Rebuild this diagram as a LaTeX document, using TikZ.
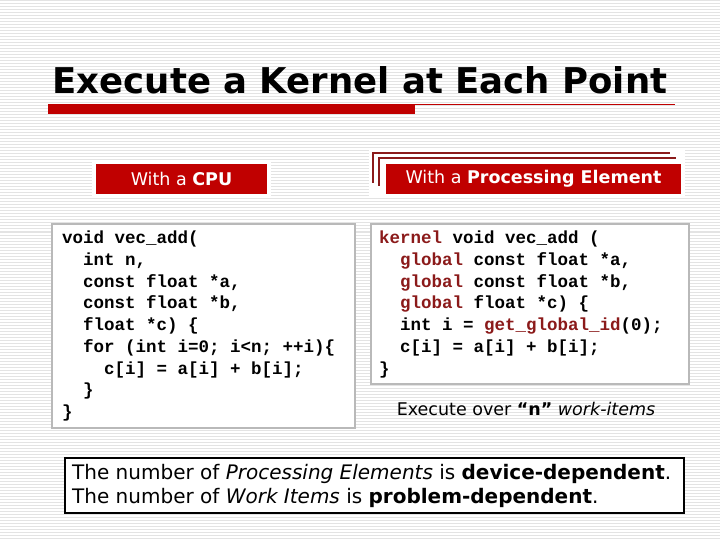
\documentclass[tikz,border=0pt]{standalone}
\usepackage{fontspec}
\setmainfont{DejaVu Sans}
\newfontfamily\codef{Liberation Mono}
\begin{document}
\begin{tikzpicture}[x=1pt,y=-1pt,
  lbl/.style={fill=myred,text=white,inner sep=0pt,font=\fontsize{17.5}{20}\selectfont},
  codebox/.style={draw=gray!55,line width=2pt,fill=white},
  code/.style={anchor=north west,align=left,inner sep=0pt,font=\codef\bfseries\fontsize{17.5}{21.7}\selectfont}]
\definecolor{myred}{HTML}{C00000}
\definecolor{kw}{HTML}{8B1A1A}
\useasboundingbox (0,0) rectangle (720,540);
\fill[white] (0,0) rectangle (720,540);
\foreach \y in {1,4,...,540} \draw[gray!22,line width=1pt] (0,\y) -- (720,\y);
% title
\node (title) at (360,80) {\fontsize{35.5}{40}\selectfont\bfseries Execute a Kernel at Each Point};
\draw[myred,line width=1pt] (48,105) -- (675,105);
\fill[myred] (48,105) rectangle (415,114);
% CPU label
\fill[white] (92,160) rectangle (271,198);
\node[lbl,minimum width=171,minimum height=30] (cpu) at (181.5,179) {With a \textbf{CPU}};
% PE label
\fill[white] (369,150) rectangle (685,198);
\draw[kw,line width=1.2pt] (373,183) -- (373,153) -- (670,153);
\draw[kw,line width=1.2pt] (379,186) -- (379,158) -- (676,158);
\fill[white] (382,160) rectangle (685,198);
\node[lbl,minimum width=295,minimum height=30] (pe) at (533.5,179) {With a \textbf{Processing Element}};
% code boxes
\draw[codebox] (52,224) rectangle (355,428);
\node[code] (c1) at (62,231) {void vec\_add(\\
\ \ int n,\\
\ \ const float *a,\\
\ \ const float *b,\\
\ \ float *c) \{\\
\ \ for (int i=0; i<n; ++i)\{\\
\ \ \ \ c[i] = a[i] + b[i];\\
\ \ \}\\
\}};
\draw[codebox] (371,224) rectangle (689,384);
\node[code] (c2) at (379,231) {\textcolor{kw}{kernel} void vec\_add (\\
\ \ \textcolor{kw}{global} const float *a,\\
\ \ \textcolor{kw}{global} const float *b,\\
\ \ \textcolor{kw}{global} float *c) \{\\
\ \ int i = \textcolor{kw}{get\_global\_id}(0);\\
\ \ c[i] = a[i] + b[i];\\
\}};
\node (ex) at (526,409) {\fontsize{17.5}{20}\selectfont Execute over \textbf{“n”} \textit{work-items}};
% bottom box
\draw[line width=1.5pt,fill=white] (65,458) rectangle (684,513);
\node[anchor=west,align=left,inner sep=0pt,font=\fontsize{20}{24}\selectfont] (bt) at (72,485.5)
 {The number of \textit{Processing Elements} is \textbf{device-dependent}.\\
  The number of \textit{Work Items} is \textbf{problem-dependent}.};
\end{tikzpicture}
\end{document}
